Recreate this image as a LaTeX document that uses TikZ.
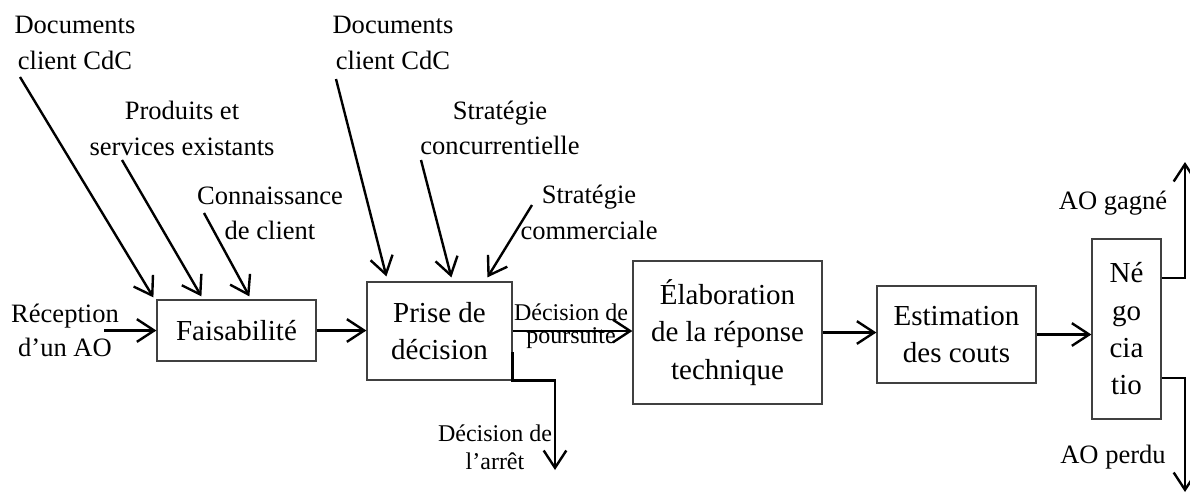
\documentclass[tikz,border=0pt]{standalone}
\usepackage{fontspec}
\setmainfont{Liberation Serif}
\usetikzlibrary{arrows.meta}
\begin{document}
\begin{tikzpicture}[x=0.75pt,y=-0.75pt,
  box/.style={draw=black!75, line width=0.9pt, inner sep=0pt, align=center, font=\fontsize{21.75}{28}\selectfont},
  lab/.style={inner sep=0pt, align=center, font=\fontsize{19.9}{26.5}\selectfont},
  arr/.style={line width=1.8pt, -{Straight Barb[length=13pt,width=17pt]}}]
\useasboundingbox (0,0) rectangle (1190,494);

% boxes
\node[box, minimum width=119.25pt, minimum height=45.75pt] (fais) at (236.5,330.5) {Faisabilité};
\node[box, minimum width=108.75pt, minimum height=73.5pt] (prise) at (439.5,331) {Prise de\\décision};
\node[box, minimum width=141.75pt, minimum height=107.25pt] (elab) at (727.5,332.5) {Élaboration\\de la réponse\\technique};
\node[box, minimum width=119.25pt, minimum height=72.75pt] (esti) at (956.5,334.5) {Estimation\\des couts};
\node[box, minimum width=51.75pt, minimum height=135pt] (nego) at (1126.5,329) {Né\\go\\cia\\tio};

% labels
\node[lab] (docL) at (75,43) {Documents\\client CdC};
\node[lab] (prod) at (182,128.5) {Produits et\\services existants};
\node[lab] (conn) at (270,213.5) {Connaissance\\de client};
\node[lab, font=\fontsize{19.9}{25.5}\selectfont] (recep) at (65,330) {Réception\\d’un AO};
\node[lab] (docR) at (393,43) {Documents\\client CdC};
\node[lab] (conc) at (500,127.75) {Stratégie\\concurrentielle};
\node[lab] (comm) at (589,212.5) {Stratégie\\commerciale};
\node[lab, font=\fontsize{18}{17.25}\selectfont] (pours) at (571,326) {Décision de\\poursuite};
\node[lab, font=\fontsize{18}{21}\selectfont] (arret) at (495,447) {Décision de\\l’arrêt};
\node[lab] (gagne) at (1113,203) {AO gagné};
\node[lab] (perdu) at (1113,457) {AO perdu};

% free ends
\coordinate (sDocL) at (20,77);
\coordinate (sProd) at (122,160);
\coordinate (sConn) at (204,213);
\coordinate (sRecep) at (104,330.5);
\coordinate (sDocR) at (336,79);
\coordinate (sConc) at (421,160);
\coordinate (sComm) at (532,205);
\coordinate (eArret) at (555,470);
\coordinate (eGagne) at (1185,162);
\coordinate (ePerdu) at (1185,492);
\coordinate (gOut) at ([yshift=38.25pt]nego.east);
\coordinate (pOut) at ([yshift=-36.75pt]nego.east);

% inputs
\draw[arr] (sDocL) -- ([shift={(-3,-2)}]fais.north west);
\draw[arr] (sProd) -- ([shift={(45,-3)}]fais.north west);
\draw[arr] (sConn) -- ([shift={(93,-3)}]fais.north west);
\draw[arr] (sRecep) -- (fais.west);
\draw[arr] (sDocR) -- ([shift={(20,-5)}]prise.north west);
\draw[arr] (sConc) -- ([shift={(85,-4)}]prise.north west);
\draw[arr] (sComm) -- ([shift={(121,-4)}]prise.north west);

% main flow
\draw[arr] (fais.east) -- (fais.east -| prise.west);
\draw[arr] (prise.east) -- (prise.east -| elab.west);
\draw[arr] (elab.east) -- (elab.east -| esti.west);
\draw[arr] (esti.east) -- (esti.east -| nego.west);

% outputs
\draw[arr] ([yshift=-15.75pt]prise.east) -- (prise.south east) -- (prise.south east -| eArret) -- (eArret);
\draw[arr] (gOut) -- (gOut -| eGagne) -- (eGagne);
\draw[arr] (pOut) -- (pOut -| ePerdu) -- (ePerdu);
\end{tikzpicture}
\end{document}
